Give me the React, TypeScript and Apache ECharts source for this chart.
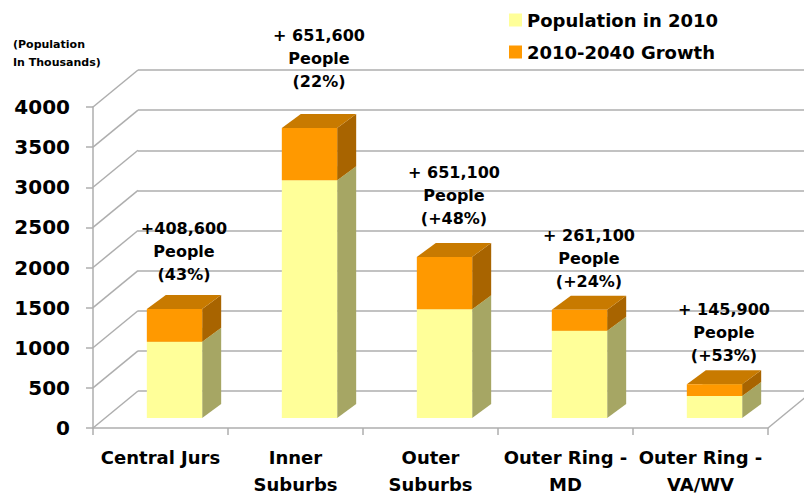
import React, { useEffect, useRef } from "react";
import * as echarts from "echarts";

const categories = ["Central Jurs", "Inner\nSuburbs", "Outer\nSuburbs", "Outer Ring -\nMD", "Outer Ring -\nVA/WV"];
const population2010 = [950, 2962, 1356, 1088, 275];
const growth2010to2040 = [408.6, 651.6, 651.1, 261.1, 145.9];
const growthPeople = ["+408,600", "+ 651,600", "+ 651,100", "+ 261,100", "+ 145,900"];
const growthPct = ["(43%)", "(22%)", "(+48%)", "(+24%)", "(+53%)"];
const yTicks = [0, 500, 1000, 1500, 2000, 2500, 3000, 3500, 4000];
const seriesNames = ["Population in 2010", "2010-2040 Growth"];

// layout / style constants
const FONT = "DejaVu Sans";
const GRID_LINE = "#AEAEAE";
const DEPTH_X = 45;
const DEPTH_Y = -37;
const BAR_OX = 14;
const BAR_OY = -10;
const BAR_DX = 19;
const BAR_DY = -14;
const LABEL_LIFT = [34, 47, 38, 28, 29];

const colors = {
  base: { front: "#FFFF99", side: "#A6A664", top: "#CCCC7A" },
  growth: { front: "#FF9900", side: "#A86400", top: "#C87A00" },
};

function boxRender(kind: "base" | "growth") {
  return (params: any, api: any) => {
    const i = api.value(0);
    const lo = api.value(1);
    const hi = api.value(2);
    const p0 = api.coord([i, lo]);
    const p1 = api.coord([i, hi]);
    const bw = api.size([1, 0])[0] * 0.41;
    const xL = p0[0] - bw / 2 + BAR_OX;
    const xR = xL + bw;
    const yB = p0[1] + BAR_OY;
    const yT = p1[1] + BAR_OY;
    const c = colors[kind];
    const children: any[] = [
      {
        type: "polygon",
        shape: { points: [[xR, yB], [xR + BAR_DX, yB + BAR_DY], [xR + BAR_DX, yT + BAR_DY], [xR, yT]] },
        style: { fill: c.side },
      },
      {
        type: "polygon",
        shape: { points: [[xL, yT], [xL + BAR_DX, yT + BAR_DY], [xR + BAR_DX, yT + BAR_DY], [xR, yT]] },
        style: { fill: c.top },
      },
      {
        type: "rect",
        shape: { x: xL, y: yT, width: bw, height: yB - yT },
        style: { fill: c.front },
      },
    ];
    if (kind === "growth") {
      children.push({
        type: "text",
        x: xL + bw / 2 + 9.5,
        y: yT - LABEL_LIFT[i] + 11.5,
        style: {
          text: growthPeople[i] + "\nPeople\n" + growthPct[i],
          fill: "#000",
          fontFamily: FONT,
          fontWeight: "bold",
          fontSize: 16,
          lineHeight: 23,
          align: "center",
          verticalAlign: "bottom",
        },
      });
    }
    return { type: "group", children };
  };
}

export default function App() {
  const ref = useRef<HTMLDivElement>(null);
  useEffect(() => {
    if (!ref.current) return;
    const chart = echarts.init(ref.current, null, { renderer: "svg" });
    const baseData = population2010.map((v, i) => [i, 0, v]);
    const growthData = population2010.map((v, i) => [i, v, v + growth2010to2040[i]]);
    const option: any = {
      animation: false,
      backgroundColor: "#fff",
      textStyle: { fontFamily: FONT },
      legend: {
        data: seriesNames,
        orient: "vertical",
        left: 504,
        top: 5,
        icon: "rect",
        itemWidth: 13,
        itemHeight: 13,
        itemGap: 12,
        selectedMode: false,
        textStyle: { fontSize: 18, fontWeight: "bold", fontFamily: FONT, color: "#000", lineHeight: 20 },
      },
      graphic: [
        {
          type: "text",
          left: 13,
          top: 35,
          style: {
            text: "(Population\nIn Thousands)",
            fontFamily: FONT,
            fontWeight: "bold",
            fontSize: 11,
            lineHeight: 18,
            fill: "#000",
          },
        },
      ],
      grid: [
        { left: 93, right: 36, top: 107, bottom: 70 },
        { left: 93 + DEPTH_X, right: 36 - DEPTH_X, top: 107 + DEPTH_Y, bottom: 70 - DEPTH_Y },
      ],
      xAxis: [
        {
          gridIndex: 0,
          type: "category",
          data: categories,
          axisLine: { show: true, lineStyle: { color: GRID_LINE, width: 1.5 } },
          axisTick: { show: true, length: 7, lineStyle: { color: GRID_LINE, width: 1.5 } },
          axisLabel: {
            color: "#000",
            fontFamily: FONT,
            fontWeight: "bold",
            fontSize: 18,
            lineHeight: 27,
            margin: 16,
            interval: 0,
          },
        },
        {
          gridIndex: 1,
          type: "category",
          data: categories,
          show: false,
        },
      ],
      yAxis: [
        {
          gridIndex: 0,
          type: "value",
          min: 0,
          max: 4000,
          interval: 500,
          axisLine: { show: true, lineStyle: { color: GRID_LINE, width: 1.5 } },
          axisTick: { show: true, length: 7, lineStyle: { color: GRID_LINE, width: 1.5 } },
          splitLine: { show: false },
          axisLabel: {
            color: "#000",
            fontFamily: FONT,
            fontWeight: "bold",
            fontSize: 20,
            margin: 23,
            formatter: (v: number) => String(v),
          },
        },
        {
          gridIndex: 1,
          type: "value",
          min: 0,
          max: 4000,
          interval: 500,
          axisLine: { show: false },
          axisTick: { show: false },
          axisLabel: { show: false },
          splitLine: { show: true, lineStyle: { color: GRID_LINE, width: 1.5 } },
        },
      ],
      series: [
        {
          type: "custom",
          name: "walls",
          xAxisIndex: 0,
          yAxisIndex: 0,
          silent: true,
          data: yTicks.map((v) => [0, v]),
          renderItem: (params: any, api: any) => {
            const cs = params.coordSys;
            const v = api.value(1);
            const p = api.coord([0, v]);
            const children: any[] = [
              {
                type: "line",
                shape: { x1: cs.x, y1: p[1], x2: cs.x + DEPTH_X, y2: p[1] + DEPTH_Y },
                style: { stroke: GRID_LINE, lineWidth: 1.5 },
              },
            ];
            if (v === 0) {
              children.push({
                type: "line",
                shape: { x1: cs.x + cs.width, y1: p[1], x2: cs.x + cs.width + DEPTH_X, y2: p[1] + DEPTH_Y },
                style: { stroke: GRID_LINE, lineWidth: 1.5 },
              });
            }
            return { type: "group", children };
          },
        },
        {
          type: "custom",
          name: seriesNames[0],
          xAxisIndex: 0,
          yAxisIndex: 0,
          itemStyle: { color: colors.base.front },
          data: baseData,
          renderItem: boxRender("base"),
        },
        {
          type: "custom",
          name: seriesNames[1],
          xAxisIndex: 0,
          yAxisIndex: 0,
          itemStyle: { color: colors.growth.front },
          data: growthData,
          renderItem: boxRender("growth"),
        },
      ],
    };
    chart.setOption(option);
    return () => chart.dispose();
  }, []);
  return <div ref={ref} style={{ position: "fixed", left: 0, top: 0, width: 804, height: 498 }} />;
}
